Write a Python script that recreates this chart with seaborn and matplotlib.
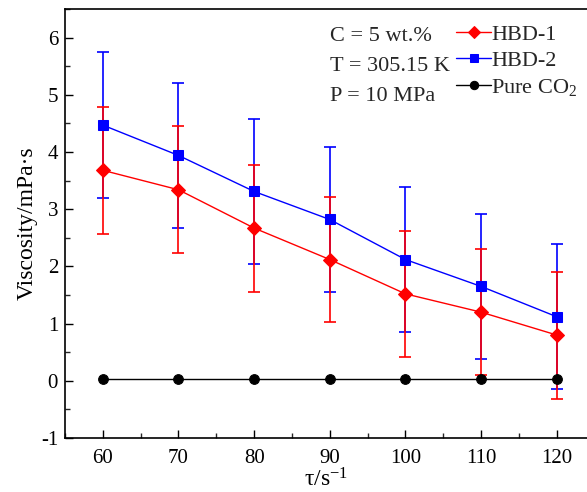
import matplotlib
matplotlib.use("Agg")
import matplotlib.pyplot as plt
import seaborn as sns
import pandas as pd
import numpy as np
from matplotlib.ticker import MultipleLocator

sns.set_theme(style="white")
plt.rcParams['font.family'] = ['Liberation Serif', 'DejaVu Serif']
plt.rcParams['mathtext.fontset'] = 'custom'
plt.rcParams['mathtext.rm'] = 'Liberation Serif'
plt.rcParams['mathtext.it'] = 'Liberation Serif:italic'
plt.rcParams['axes.unicode_minus'] = False

shear = [60, 70, 80, 90, 100, 110, 120]
hbd1 = [3.68, 3.34, 2.67, 2.12, 1.52, 1.20, 0.80]
hbd1_err = [1.11, 1.11, 1.11, 1.10, 1.10, 1.10, 1.11]
hbd2 = [4.47, 3.94, 3.31, 2.82, 2.12, 1.65, 1.12]
hbd2_err = [1.28, 1.27, 1.27, 1.26, 1.27, 1.27, 1.27]
pure = [0.03, 0.03, 0.03, 0.03, 0.03, 0.03, 0.03]

fig = plt.figure(figsize=(5.87, 4.92), dpi=100)
ax = fig.add_axes([65/587, 54/492, 1 - 65/587, (438-9)/492])

df1 = pd.DataFrame({"x": shear, "y": hbd1})
df2 = pd.DataFrame({"x": shear, "y": hbd2})
df3 = pd.DataFrame({"x": shear, "y": pure})

ax.errorbar(shear, hbd2, yerr=hbd2_err, fmt='none', ecolor='blue', elinewidth=1.2, capsize=4, capthick=1.2, zorder=2)
ax.errorbar(shear, hbd1, yerr=hbd1_err, fmt='none', ecolor='red', elinewidth=1.2, capsize=4, capthick=1.2, zorder=2)

sns.lineplot(data=df1, x="x", y="y", ax=ax, color='red', marker='D', markersize=7,
             markeredgecolor='red', linewidth=1, label='HBD-1', zorder=3)
sns.lineplot(data=df2, x="x", y="y", ax=ax, color='blue', marker='s', markersize=7,
             markeredgecolor='blue', linewidth=1, label='HBD-2', zorder=3)
sns.lineplot(data=df3, x="x", y="y", ax=ax, color='black', marker='o', markersize=7,
             markeredgecolor='black', linewidth=1, label='Pure CO$_2$', zorder=3)

ax.set_xlim(55, 124)
ax.set_ylim(-1, 6.5)
ax.set_xticks(shear)
ax.set_yticks(range(-1, 7))
ax.xaxis.set_minor_locator(MultipleLocator(5))
ax.yaxis.set_minor_locator(MultipleLocator(0.5))
ax.tick_params(axis='both', which='major', direction='in', length=6, width=1, labelsize=15, colors='black')
ax.tick_params(axis='both', which='minor', direction='in', length=3.5, width=1)
ax.tick_params(axis='x', pad=8)
ax.tick_params(axis='y', pad=5)
ax.tick_params(bottom=True, left=True, which='both')

for s in ['left', 'bottom', 'top']:
    ax.spines[s].set_color('black')
    ax.spines[s].set_linewidth(1.2)
ax.spines['right'].set_visible(False)

ax.set_xlabel(r'τ/s$^{\mathregular{-1}}$', fontsize=17, color='black', labelpad=0)
ax.set_ylabel('Viscosity/mPa·s', fontsize=17, color='black', labelpad=2)

ax.text(0.508, 0.958, 'C = 5 wt.%', transform=ax.transAxes, fontsize=16, va='top')
ax.text(0.508, 0.888, 'T = 305.15 K', transform=ax.transAxes, fontsize=16, va='top')
ax.text(0.508, 0.818, 'P = 10 MPa', transform=ax.transAxes, fontsize=16, va='top')

leg = ax.legend(loc='upper right', bbox_to_anchor=(1.012, 1.0), frameon=False, fontsize=16,
                handlelength=1.6, handletextpad=0.0, labelspacing=0.25, borderaxespad=0.3)
for h in leg.legend_handles:
    h.set_markersize(6)

fig.savefig('out.png', dpi=100)
